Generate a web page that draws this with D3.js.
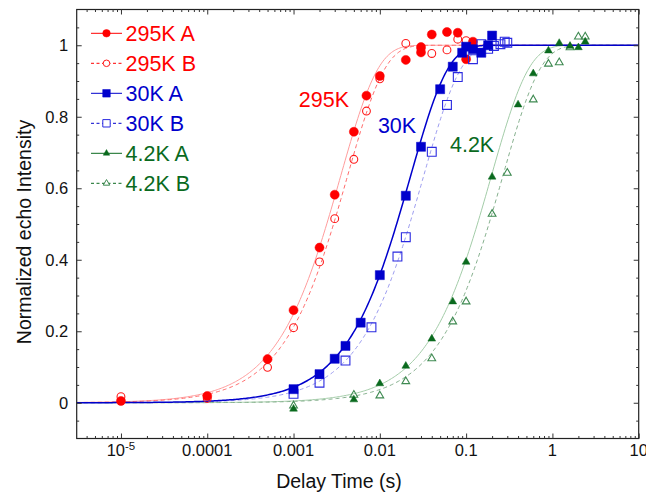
<!DOCTYPE html>
<html>
<head>
<meta charset="utf-8">
<script src="https://cdn.jsdelivr.net/npm/d3@7"></script>
<style>
  body { margin: 0; background: #fff; }
  svg text { font-family: "Liberation Sans", Arial, Helvetica, sans-serif; }
</style>
</head>
<body>
<div id="chart"></div>
<script>
// series labels and styles
const seriesNames = ["295K A", "295K B", "30K A", "30K B", "4.2K A", "4.2K B"];

// delay times (s) and normalized intensities
const t295A = [1e-5, 1e-4, 5e-4, 0.001, 0.002, 0.003, 0.005, 0.007, 0.01, 0.02, 0.03, 0.03, 0.04, 0.06, 0.08, 0.1, 0.12];
const v295A = [0.005, 0.019, 0.122, 0.259, 0.434, 0.582, 0.758, 0.859, 0.914, 0.959, 0.995, 0.98, 1.03, 1.037, 1.035, 0.961, 1.01];
const t295B = [1e-5, 1e-4, 5e-4, 0.001, 0.002, 0.003, 0.005, 0.007, 0.01, 0.02, 0.03, 0.04, 0.06, 0.08, 0.1];
const v295B = [0.017, 0.012, 0.099, 0.21, 0.394, 0.515, 0.681, 0.816, 0.906, 1.005, 0.99, 0.977, 0.987, 1.017, 1.013];

const t30A = [0.001, 0.002, 0.003, 0.004, 0.006, 0.01, 0.02, 0.03, 0.05, 0.07, 0.09, 0.1, 0.12, 0.15, 0.18, 0.2];
const v30A = [0.038, 0.08, 0.123, 0.159, 0.224, 0.357, 0.579, 0.716, 0.877, 0.94, 0.979, 0.996, 0.989, 0.979, 1.0, 1.027];
const t30B = [0.001, 0.002, 0.004, 0.008, 0.016, 0.02, 0.04, 0.06, 0.08, 0.12, 0.15, 0.18, 0.21, 0.25, 0.28, 0.3];
const v30B = [0.025, 0.056, 0.118, 0.211, 0.409, 0.463, 0.702, 0.833, 0.911, 0.961, 1.003, 0.99, 0.998, 1.003, 1.01, 1.007];

const t42A = [0.001, 0.005, 0.01, 0.02, 0.04, 0.07, 0.1, 0.2, 0.4, 0.6, 0.9, 1.2, 1.6, 2.0, 2.4];
const v42A = [-0.015, 0.011, 0.056, 0.105, 0.181, 0.285, 0.396, 0.634, 0.836, 0.923, 0.987, 1.008, 1.0, 0.996, 1.012];
const t42B = [0.001, 0.005, 0.01, 0.02, 0.04, 0.07, 0.1, 0.2, 0.3, 0.6, 0.9, 1.2, 1.6, 2.0, 2.4];
const v42B = [-0.006, 0.024, 0.022, 0.062, 0.126, 0.229, 0.285, 0.53, 0.645, 0.85, 0.95, 0.954, 0.996, 1.026, 1.026];

// recovery time constants of the fitted curves 1 - exp(-t/T1), seconds
const fitT1 = [0.0035, 0.0042, 0.0226, 0.032, 0.195, 0.265];

const xTickVals = [1e-5, 1e-4, 1e-3, 1e-2, 1e-1, 1, 10];
const xTickLabels = ["10", "0.0001", "0.001", "0.01", "0.1", "1", "10"];
const yTickVals = [0, 0.2, 0.4, 0.6, 0.8, 1];

const annotations = [
  {text: "295K", x: 0.00115, y: 0.827, color: "#ff0000"},
  {text: "30K", x: 0.0095, y: 0.755, color: "#0000cc"},
  {text: "4.2K", x: 0.065, y: 0.701, color: "#0a6a1e"}
];

const times = [t295A, t295B, t30A, t30B, t42A, t42B];
const values = [v295A, v295B, v30A, v30B, v42A, v42B];

const markColor = ["#ff0000", "#ff1a1a", "#0000cc", "#2a2ae0", "#0a6a1e", "#3f8a52"];
const markFilled = [true, false, true, false, true, false];
const markShape = [d3.symbolCircle, d3.symbolCircle, d3.symbolSquare, d3.symbolSquare, d3.symbolTriangle, d3.symbolTriangle];
const markSize = [64, 48, 82, 78, 26, 26];
const curveColor = ["#ff9c9c", "#ff6a6a", "#0000cc", "#9d9def", "#a3cca8", "#86b08e"];
const curveWidth = [1, 1, 1.5, 1, 1, 1];
const curveDash = [null, "4,3", null, "4,3", null, "4,3"];
const legendColor = ["#ff0000", "#ff0000", "#0000cc", "#0000cc", "#0a6a1e", "#0a6a1e"];

const W = 646, H = 496;
const margin = {top: 9.5, right: 7.3, bottom: 57.5, left: 76.7};

const svg = d3.select("#chart").append("svg")
  .attr("width", W).attr("height", H);

const x = d3.scaleLog().domain([3.07e-6, 10]).range([margin.left, W - margin.right]);
const y = d3.scaleLinear().domain([-0.1, 1.1]).range([H - margin.bottom, margin.top]);

const plot = svg.append("g");
svg.append("defs").append("clipPath").attr("id", "clip")
  .append("rect")
  .attr("x", margin.left).attr("y", margin.top)
  .attr("width", x.range()[1] - margin.left)
  .attr("height", y.range()[0] - margin.top);

// fitted curves
const sampleT = d3.range(0, 401).map(i => Math.pow(10, Math.log10(3.07e-6) + i * (Math.log10(10) - Math.log10(3.07e-6)) / 400));
const line = d3.line().x(d => x(d[0])).y(d => y(d[1]));
const drawOrder = [0, 1, 4, 5, 3, 2];
drawOrder.forEach(i => {
  plot.append("path")
    .attr("clip-path", "url(#clip)")
    .attr("d", line(sampleT.map(t => [t, 1 - Math.exp(-t / fitT1[i])])))
    .attr("fill", "none")
    .attr("stroke", curveColor[i])
    .attr("stroke-width", curveWidth[i])
    .attr("stroke-dasharray", curveDash[i]);
});

// markers
[1, 0, 5, 4, 3, 2].forEach(i => {
  plot.append("g").selectAll("path")
    .data(times[i].map((t, k) => [t, values[i][k]]))
    .enter().append("path")
    .attr("transform", d => "translate(" + x(d[0]) + "," + (y(d[1]) + (markShape[i] === d3.symbolTriangle ? 0.8 : 0)) + ")")
    .attr("d", d3.symbol().type(markShape[i]).size(markSize[i]))
    .attr("fill", markFilled[i] ? markColor[i] : "#fff")
    .attr("fill-opacity", markFilled[i] ? 1 : 0)
    .attr("stroke", markColor[i])
    .attr("stroke-width", markFilled[i] ? 0.5 : 1.1);
});

// frame
svg.append("rect")
  .attr("x", margin.left).attr("y", margin.top)
  .attr("width", x.range()[1] - margin.left)
  .attr("height", y.range()[0] - margin.top)
  .attr("fill", "none").attr("stroke", "#222").attr("stroke-width", 1.2);

// x ticks (inward, bottom and top)
const xMinor = [];
for (let e = -6; e <= 0; e++) for (let m = 2; m <= 9; m++) {
  const v = m * Math.pow(10, e);
  if (v > x.domain()[0] && v < 10) xMinor.push(v);
}
const yBottom = y.range()[0], yTop = y.range()[1];
const xAxisBottom = svg.append("g").attr("transform", "translate(0," + yBottom + ")");
xAxisBottom.call(d3.axisTop(x).tickValues(xTickVals).tickSize(5).tickFormat(""));
xAxisBottom.append("g").call(d3.axisTop(x).tickValues(xMinor).tickSize(2.5).tickFormat(""));
const xAxisTop = svg.append("g").attr("transform", "translate(0," + yTop + ")");
xAxisTop.call(d3.axisBottom(x).tickValues(xTickVals).tickSize(5).tickFormat(""));
xAxisTop.append("g").call(d3.axisBottom(x).tickValues(xMinor).tickSize(2.5).tickFormat(""));

// y ticks
const yMinor = d3.range(-0.05, 1.1, 0.05).filter(v => Math.abs(Math.round(v * 5) - v * 5) > 1e-6);
const xLeft = x.range()[0], xRight = x.range()[1];
const yAxisLeft = svg.append("g").attr("transform", "translate(" + xLeft + ",0)");
yAxisLeft.call(d3.axisRight(y).tickValues(yTickVals).tickSize(5).tickFormat(""));
yAxisLeft.append("g").call(d3.axisRight(y).tickValues(yMinor).tickSize(2.5).tickFormat(""));
const yAxisRight = svg.append("g").attr("transform", "translate(" + xRight + ",0)");
yAxisRight.call(d3.axisLeft(y).tickValues(yTickVals).tickSize(5).tickFormat(""));
yAxisRight.append("g").call(d3.axisLeft(y).tickValues(yMinor).tickSize(2.5).tickFormat(""));
svg.selectAll(".domain").remove();
svg.selectAll(".tick line").attr("stroke", "#333");

// tick labels
xTickVals.forEach((v, i) => {
  const t = svg.append("text")
    .attr("x", x(v)).attr("y", yBottom + 17.5)
    .attr("text-anchor", "middle")
    .attr("font-size", 16.5).attr("fill", "#111");
  if (i === 0) {
    t.append("tspan").text(xTickLabels[i]);
    t.append("tspan").attr("dy", -6.5).attr("font-size", 11.5).text("-5");
  } else {
    t.text(xTickLabels[i]);
  }
});
yTickVals.forEach(v => {
  svg.append("text")
    .attr("x", xLeft - 8.5).attr("y", y(v) + 6)
    .attr("text-anchor", "end")
    .attr("font-size", 16.5).attr("fill", "#111")
    .text(d3.format("~g")(v));
});

// axis titles
svg.append("text")
  .attr("x", 339).attr("y", 488)
  .attr("text-anchor", "middle").attr("font-size", 19.5).attr("fill", "#111")
  .text("Delay Time (s)");
svg.append("text")
  .attr("transform", "translate(31," + 232 + ") rotate(-90)")
  .attr("text-anchor", "middle").attr("font-size", 19.5).attr("fill", "#111")
  .text("Normalized echo Intensity");

// annotations
annotations.forEach(a => {
  svg.append("text")
    .attr("x", x(a.x)).attr("y", y(a.y))
    .attr("font-size", 21.5).attr("fill", a.color)
    .text(a.text);
});

// legend
const legend = svg.append("g");
seriesNames.forEach((name, i) => {
  const ly = 33.3 + i * 30;
  legend.append("line")
    .attr("x1", 91).attr("x2", 122).attr("y1", ly).attr("y2", ly)
    .attr("stroke", legendColor[i]).attr("stroke-width", 1)
    .attr("stroke-dasharray", markFilled[i] ? null : "3,2.5");
  legend.append("path")
    .attr("transform", "translate(106.5," + ly + ")")
    .attr("d", d3.symbol().type(markShape[i]).size(markSize[i] * 0.7))
    .attr("fill", markFilled[i] ? legendColor[i] : "#fff")
    .attr("stroke", markColor[i])
    .attr("stroke-width", markFilled[i] ? 0.5 : 1);
  legend.append("text")
    .attr("x", 125.5).attr("y", ly + 7.6)
    .attr("font-size", 21.5).attr("fill", legendColor[i])
    .text(name);
});
</script>
</body>
</html>
